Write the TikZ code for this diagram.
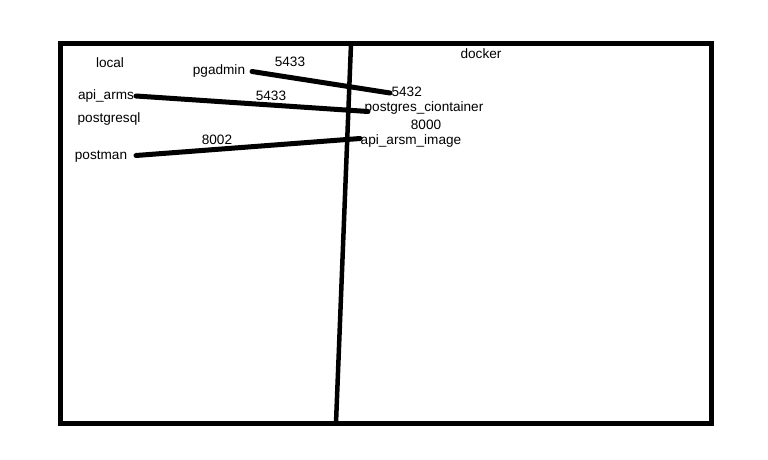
\documentclass[tikz,border=0pt]{standalone}
\usepackage{fontspec}
\setmainfont{Liberation Sans}
\begin{document}
\begin{tikzpicture}[x=1pt,y=-1pt,
  lbl/.style={anchor=base,inner sep=0pt,font=\fontsize{13.6}{16}\selectfont},
  wire/.style={line width=5pt,line cap=round}]
\useasboundingbox (0,0) rectangle (768,460);

% Frame
\draw[line width=5pt] (60,44) rectangle (711.5,423);

% Divider between local and docker
\draw[line width=4.5pt] (351,44) -- (336,423);

% Local side
\node[lbl] (local) at (110,67.3) {local};
\node[lbl] (pgadmin) at (219,74.7) {pgadmin};
\node[lbl] (apiarms) at (106,99.7) {api\_arms};
\node[lbl] (postgresql) at (109,122) {postgresql};
\node[lbl] (postman) at (101,159.7) {postman};

% Docker side
\node[lbl] (docker) at (481,58.3) {docker};
\node[lbl] (pgport) at (406.7,96) {5432};
\node[lbl] (pgcont) at (424,111.7) {postgres\_ciontainer};
\node[lbl] (apiport) at (426,129.3) {8000};
\node[lbl] (apiimg) at (411,144.3) {api\_arsm\_image};

% Port labels on the links
\node[lbl] (pgaport) at (290,66.7) {5433};
\node[lbl] (armsport) at (271,100.7) {5433};
\node[lbl] (manport) at (217,144.7) {8002};

% Link ends
\coordinate (pgS) at (252,71.5);
\coordinate (pgE) at (390,93);
\coordinate (armsS) at (136,96);
\coordinate (armsE) at (368,111.5);
\coordinate (manS) at (136,155.5);
\coordinate (manE) at (360,138.5);

% Links
\draw[wire] (pgS) -- (pgE);
\draw[wire] (armsS) -- (armsE);
\draw[wire] (manS) -- (manE);

\end{tikzpicture}
\end{document}
